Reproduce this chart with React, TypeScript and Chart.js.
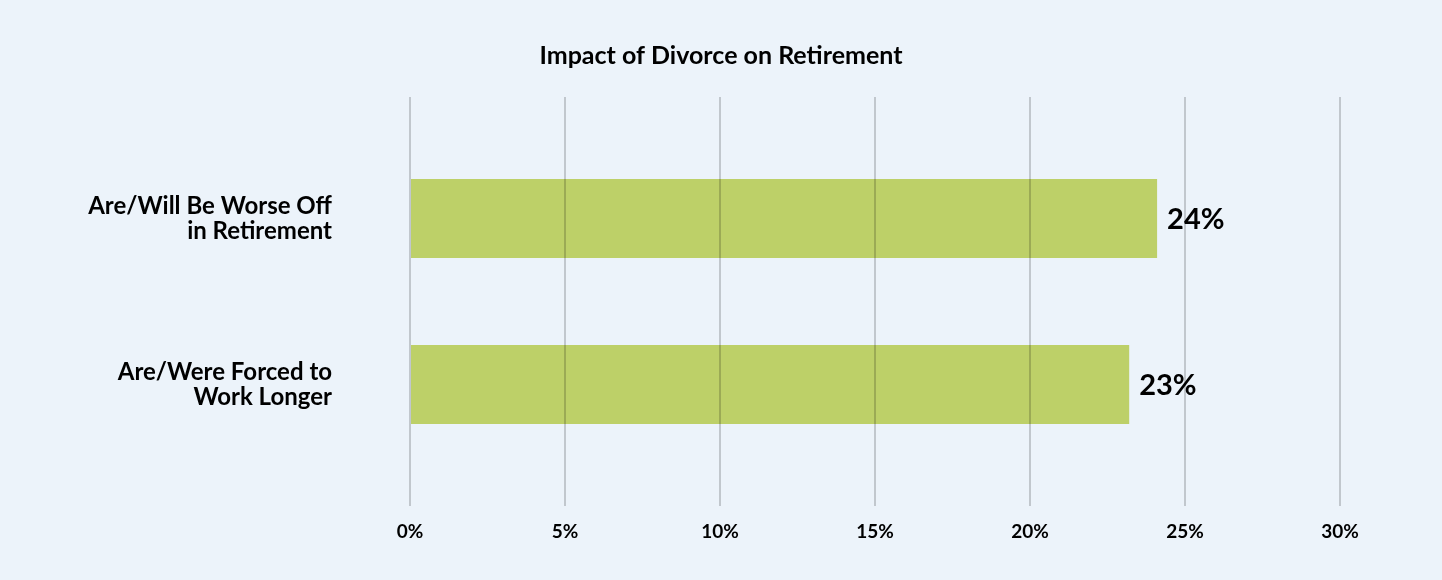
import React, { useEffect, useRef } from "react";
import { Chart, registerables } from "chart.js";

Chart.register(...registerables);

const titleText = "Impact of Divorce on Retirement";
const categories = ["Are/Will Be Worse Off\nin Retirement", "Are/Were Forced to\nWork Longer"];
const values = [24.1, 23.2];
const xTicks = [0, 5, 10, 15, 20, 25, 30];

const FONT = "Lato, 'Open Sans', sans-serif";

const valueLabelPlugin = {
  id: "valueLabels",
  afterDatasetsDraw(chart: any) {
    const ctx = chart.ctx;
    const meta = chart.getDatasetMeta(0);
    ctx.save();
    ctx.font = `bold 29px ${FONT}`;
    ctx.fillStyle = "#000";
    ctx.textAlign = "left";
    ctx.textBaseline = "middle";
    meta.data.forEach((el: any, i: number) => {
      ctx.fillText(Math.round(values[i]) + "%", el.x + 10, el.y + 1);
    });
    ctx.restore();
  },
};

export default function App() {
  const ref = useRef<HTMLCanvasElement>(null);
  useEffect(() => {
    document.body.style.margin = "0";
    const chart = new Chart(ref.current!, {
      type: "bar",
      data: {
        datasets: [
          {
            data: values.map((v, i) => ({ x: v, y: i })) as any,
            backgroundColor: "#bdd068",
            borderWidth: 0,
            categoryPercentage: 1,
            barPercentage: 0.476,
          },
        ],
      },
      plugins: [valueLabelPlugin],
      options: {
        indexAxis: "y",
        animation: false,
        responsive: false,
        layout: { padding: 0 },
        plugins: {
          legend: { display: false },
          tooltip: { enabled: false },
          title: {
            display: true,
            text: titleText,
            color: "#000",
            font: { family: FONT, size: 25, weight: "bold", lineHeight: 1.2 },
            padding: { top: 41, bottom: 26 },
          },
        },
        scales: {
          x: {
            type: "linear",
            min: 0,
            max: 30,
            afterBuildTicks: (s: any) => {
              s.ticks = xTicks.map((v) => ({ value: v }));
            },
            afterFit: (s: any) => {
              s.height = 74;
              s.paddingLeft = 0;
              s.paddingRight = 102;
            },
            ticks: {
              callback: (v: any) => v + "%",
              color: "#000",
              font: { family: FONT, size: 19, weight: "bold", lineHeight: 1.2 },
              padding: 14,
            },
            grid: {
              color: "rgba(0,0,0,0.18)",
              lineWidth: 2,
              drawTicks: false,
              z: 1,
            },
            border: { display: false },
          },
          y: {
            type: "linear",
            offset: false,
            reverse: true,
            min: -0.732,
            max: 1.732,
            afterBuildTicks: (s: any) => {
              s.ticks = categories.map((_, i) => ({ value: i }));
            },
            afterFit: (s: any) => {
              s.width = 410;
              s.paddingTop = 0;
              s.paddingBottom = 0;
            },
            ticks: {
              callback: (v: any) => categories[v].split("\n"),
              color: "#000",
              font: { family: FONT, size: 24, weight: "bold", lineHeight: "25px" },
              padding: 78,
            },
            grid: { display: false, drawTicks: false, offset: false },
            border: { display: false },
          },
        },
      } as any,
    });
    return () => chart.destroy();
  }, []);
  return (
    <div style={{ width: 1442, height: 580, background: "#ecf3fa" }}>
      <canvas ref={ref} width={1442} height={580} style={{ display: "block" }} />
    </div>
  );
}
